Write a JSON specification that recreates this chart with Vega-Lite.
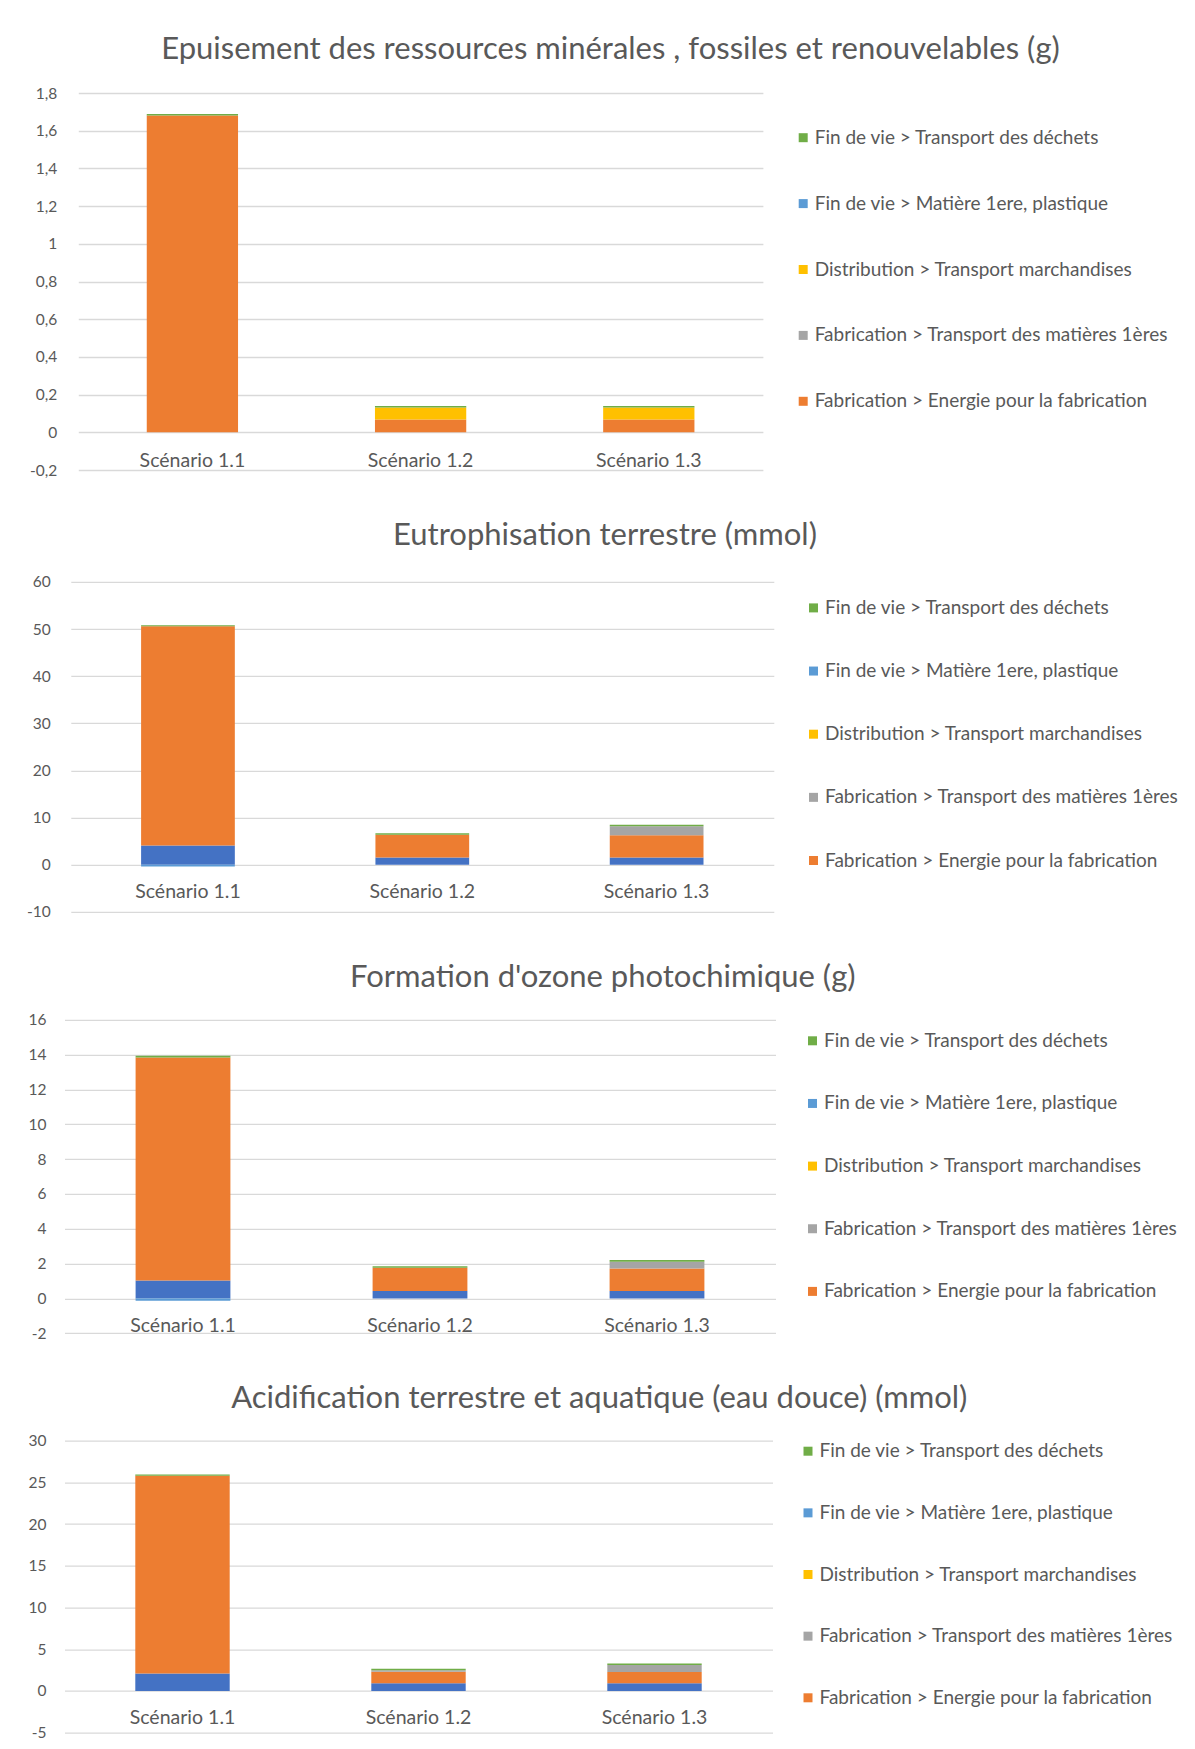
{
  "$schema": "https://vega.github.io/schema/vega-lite/v6.json",
  "padding": {"left": 25.5, "top": 34, "right": 0, "bottom": 0},
  "background": "white",
  "columns": 1,
  "align": "none",
  "spacing": 40.9,
  "data": {"values": [
    {"ind": "E", "scenario": "Scénario 1.1", "serie": "Fabrication > Energie pour la fabrication", "ordre": 1, "valeur": 1.68},
    {"ind": "E", "scenario": "Scénario 1.1", "serie": "Fin de vie > Transport des déchets", "ordre": 5, "valeur": 0.009},
    {"ind": "E", "scenario": "Scénario 1.2", "serie": "Fabrication > Energie pour la fabrication", "ordre": 1, "valeur": 0.068},
    {"ind": "E", "scenario": "Scénario 1.2", "serie": "Distribution > Transport marchandises", "ordre": 3, "valeur": 0.063},
    {"ind": "E", "scenario": "Scénario 1.2", "serie": "Fin de vie > Transport des déchets", "ordre": 5, "valeur": 0.009},
    {"ind": "E", "scenario": "Scénario 1.3", "serie": "Fabrication > Energie pour la fabrication", "ordre": 1, "valeur": 0.068},
    {"ind": "E", "scenario": "Scénario 1.3", "serie": "Distribution > Transport marchandises", "ordre": 3, "valeur": 0.063},
    {"ind": "E", "scenario": "Scénario 1.3", "serie": "Fin de vie > Transport des déchets", "ordre": 5, "valeur": 0.009},

    {"ind": "T", "scenario": "Scénario 1.1", "serie": "Fabrication > Matière 1ère", "ordre": 0, "valeur": 4.1},
    {"ind": "T", "scenario": "Scénario 1.1", "serie": "Fabrication > Energie pour la fabrication", "ordre": 1, "valeur": 46.5},
    {"ind": "T", "scenario": "Scénario 1.1", "serie": "Fin de vie > Matière 1ere, plastique", "ordre": 4, "valeur": -0.35},
    {"ind": "T", "scenario": "Scénario 1.1", "serie": "Fin de vie > Transport des déchets", "ordre": 5, "valeur": 0.2},
    {"ind": "T", "scenario": "Scénario 1.2", "serie": "Fabrication > Matière 1ère", "ordre": 0, "valeur": 1.55},
    {"ind": "T", "scenario": "Scénario 1.2", "serie": "Fabrication > Energie pour la fabrication", "ordre": 1, "valeur": 4.8},
    {"ind": "T", "scenario": "Scénario 1.2", "serie": "Fin de vie > Transport des déchets", "ordre": 5, "valeur": 0.35},
    {"ind": "T", "scenario": "Scénario 1.3", "serie": "Fabrication > Matière 1ère", "ordre": 0, "valeur": 1.55},
    {"ind": "T", "scenario": "Scénario 1.3", "serie": "Fabrication > Energie pour la fabrication", "ordre": 1, "valeur": 4.7},
    {"ind": "T", "scenario": "Scénario 1.3", "serie": "Fabrication > Transport des matières 1ères", "ordre": 2, "valeur": 1.9},
    {"ind": "T", "scenario": "Scénario 1.3", "serie": "Fin de vie > Transport des déchets", "ordre": 5, "valeur": 0.35},

    {"ind": "O", "scenario": "Scénario 1.1", "serie": "Fabrication > Matière 1ère", "ordre": 0, "valeur": 1.03},
    {"ind": "O", "scenario": "Scénario 1.1", "serie": "Fabrication > Energie pour la fabrication", "ordre": 1, "valeur": 12.81},
    {"ind": "O", "scenario": "Scénario 1.1", "serie": "Fin de vie > Matière 1ere, plastique", "ordre": 4, "valeur": -0.14},
    {"ind": "O", "scenario": "Scénario 1.1", "serie": "Fin de vie > Transport des déchets", "ordre": 5, "valeur": 0.1},
    {"ind": "O", "scenario": "Scénario 1.2", "serie": "Fabrication > Matière 1ère", "ordre": 0, "valeur": 0.43},
    {"ind": "O", "scenario": "Scénario 1.2", "serie": "Fabrication > Energie pour la fabrication", "ordre": 1, "valeur": 1.33},
    {"ind": "O", "scenario": "Scénario 1.2", "serie": "Fin de vie > Transport des déchets", "ordre": 5, "valeur": 0.08},
    {"ind": "O", "scenario": "Scénario 1.3", "serie": "Fabrication > Matière 1ère", "ordre": 0, "valeur": 0.43},
    {"ind": "O", "scenario": "Scénario 1.3", "serie": "Fabrication > Energie pour la fabrication", "ordre": 1, "valeur": 1.29},
    {"ind": "O", "scenario": "Scénario 1.3", "serie": "Fabrication > Transport des matières 1ères", "ordre": 2, "valeur": 0.39},
    {"ind": "O", "scenario": "Scénario 1.3", "serie": "Fin de vie > Transport des déchets", "ordre": 5, "valeur": 0.1},

    {"ind": "A", "scenario": "Scénario 1.1", "serie": "Fabrication > Matière 1ère", "ordre": 0, "valeur": 2.09},
    {"ind": "A", "scenario": "Scénario 1.1", "serie": "Fabrication > Energie pour la fabrication", "ordre": 1, "valeur": 23.7},
    {"ind": "A", "scenario": "Scénario 1.1", "serie": "Fin de vie > Transport des déchets", "ordre": 5, "valeur": 0.17},
    {"ind": "A", "scenario": "Scénario 1.2", "serie": "Fabrication > Matière 1ère", "ordre": 0, "valeur": 0.92},
    {"ind": "A", "scenario": "Scénario 1.2", "serie": "Fabrication > Energie pour la fabrication", "ordre": 1, "valeur": 1.4},
    {"ind": "A", "scenario": "Scénario 1.2", "serie": "Fabrication > Transport des matières 1ères", "ordre": 2, "valeur": 0.18},
    {"ind": "A", "scenario": "Scénario 1.2", "serie": "Fin de vie > Transport des déchets", "ordre": 5, "valeur": 0.18},
    {"ind": "A", "scenario": "Scénario 1.3", "serie": "Fabrication > Matière 1ère", "ordre": 0, "valeur": 0.92},
    {"ind": "A", "scenario": "Scénario 1.3", "serie": "Fabrication > Energie pour la fabrication", "ordre": 1, "valeur": 1.35},
    {"ind": "A", "scenario": "Scénario 1.3", "serie": "Fabrication > Transport des matières 1ères", "ordre": 2, "valeur": 0.84},
    {"ind": "A", "scenario": "Scénario 1.3", "serie": "Fin de vie > Transport des déchets", "ordre": 5, "valeur": 0.17}
  ]},
  "concat": [
    {
      "title": {"text": "Epuisement des ressources minérales , fossiles et renouvelables (g)", "offset": 20, "dx": -6},
      "width": 699, "height": 377,
      "transform": [{"filter": "datum.ind === 'E'"}],
      "mark": {"type": "bar"},
      "encoding": {
        "x": {"field": "scenario", "type": "nominal", "scale": {"paddingInner": 0.6, "paddingOuter": 0.3, "range": [13.8, 698.4]},
              "axis": {"offset": -37.7, "labelPadding": 19}},
        "y": {"field": "valeur", "type": "quantitative", "stack": "zero",
              "scale": {"domain": [-0.2, 1.8], "nice": false, "zero": false},
              "axis": {"values": [-0.2, 0, 0.2, 0.4, 0.6, 0.8, 1, 1.2, 1.4, 1.6, 1.8], "labelPadding": 7.8}},
        "color": {"field": "serie", "type": "nominal",
                  "scale": {"domain": ["Fabrication > Matière 1ère", "Fabrication > Energie pour la fabrication", "Fabrication > Transport des matières 1ères", "Distribution > Transport marchandises", "Fin de vie > Matière 1ere, plastique", "Fin de vie > Transport des déchets"],
                            "range": ["#4472C4", "#ED7D31", "#A5A5A5", "#FFC000", "#5B9BD5", "#70AD47"]},
                  "legend": {"values": ["Fin de vie > Transport des déchets", "Fin de vie > Matière 1ere, plastique", "Distribution > Transport marchandises", "Fabrication > Transport des matières 1ères", "Fabrication > Energie pour la fabrication"],
                             "padding": 35.2, "offset": -5, "rowPadding": 45.9}},
        "order": {"field": "ordre", "type": "quantitative"}
      }
    },
    {
      "title": {"text": "Eutrophisation terrestre (mmol)", "offset": 22.9, "dx": -6},
      "width": 711, "height": 330,
      "transform": [{"filter": "datum.ind === 'T'"}],
      "mark": {"type": "bar"},
      "encoding": {
        "x": {"field": "scenario", "type": "nominal", "scale": {"paddingInner": 0.6, "paddingOuter": 0.3, "range": [6.3, 709.3]},
              "axis": {"offset": -47}},
        "y": {"field": "valeur", "type": "quantitative", "stack": "zero",
              "scale": {"domain": [-10, 60], "nice": false, "zero": false},
              "axis": {"values": [-10, 0, 10, 20, 30, 40, 50, 60], "labelPadding": 14.3}},
        "color": {"field": "serie", "type": "nominal",
                  "scale": {"domain": ["Fabrication > Matière 1ère", "Fabrication > Energie pour la fabrication", "Fabrication > Transport des matières 1ères", "Distribution > Transport marchandises", "Fin de vie > Matière 1ere, plastique", "Fin de vie > Transport des déchets"],
                            "range": ["#4472C4", "#ED7D31", "#A5A5A5", "#FFC000", "#5B9BD5", "#70AD47"]},
                  "legend": {"values": ["Fin de vie > Transport des déchets", "Fin de vie > Matière 1ere, plastique", "Distribution > Transport marchandises", "Fabrication > Transport des matières 1ères", "Fabrication > Energie pour la fabrication"],
                             "padding": 16.5, "offset": 11.7, "rowPadding": 43.15}},
        "order": {"field": "ordre", "type": "quantitative"}
      }
    },
    {
      "title": {"text": "Formation d'ozone photochimique (g)", "offset": 18.8, "dx": -6},
      "width": 711, "height": 313.4,
      "transform": [{"filter": "datum.ind === 'O'"}],
      "mark": {"type": "bar"},
      "encoding": {
        "x": {"field": "scenario", "type": "nominal", "scale": {"paddingInner": 0.6, "paddingOuter": 0.3},
              "axis": {"offset": -34.1}},
        "y": {"field": "valeur", "type": "quantitative", "stack": "zero",
              "scale": {"domain": [-2, 16], "nice": false, "zero": false},
              "axis": {"values": [-2, 0, 2, 4, 6, 8, 10, 12, 14, 16], "labelPadding": 18.5}},
        "color": {"field": "serie", "type": "nominal",
                  "scale": {"domain": ["Fabrication > Matière 1ère", "Fabrication > Energie pour la fabrication", "Fabrication > Transport des matières 1ères", "Distribution > Transport marchandises", "Fin de vie > Matière 1ere, plastique", "Fin de vie > Transport des déchets"],
                            "range": ["#4472C4", "#ED7D31", "#A5A5A5", "#FFC000", "#5B9BD5", "#70AD47"]},
                  "legend": {"values": ["Fin de vie > Transport des déchets", "Fin de vie > Matière 1ere, plastique", "Distribution > Transport marchandises", "Fabrication > Transport des matières 1ères", "Fabrication > Energie pour la fabrication"],
                             "padding": 11.5, "offset": 16, "rowPadding": 42.65}},
        "order": {"field": "ordre", "type": "quantitative"}
      }
    },
    {
      "title": {"text": "Acidification terrestre et aquatique (eau douce) (mmol)", "offset": 18.5, "dx": -2},
      "width": 708, "height": 292,
      "transform": [{"filter": "datum.ind === 'A'"}],
      "mark": {"type": "bar"},
      "encoding": {
        "x": {"field": "scenario", "type": "nominal", "scale": {"paddingInner": 0.6, "paddingOuter": 0.3},
              "axis": {"offset": -41.7}},
        "y": {"field": "valeur", "type": "quantitative", "stack": "zero",
              "scale": {"domain": [-5, 30], "nice": false, "zero": false},
              "axis": {"values": [-5, 0, 5, 10, 15, 20, 25, 30], "labelPadding": 18.5}},
        "color": {"field": "serie", "type": "nominal",
                  "scale": {"domain": ["Fabrication > Matière 1ère", "Fabrication > Energie pour la fabrication", "Fabrication > Transport des matières 1ères", "Distribution > Transport marchandises", "Fin de vie > Matière 1ere, plastique", "Fin de vie > Transport des déchets"],
                            "range": ["#4472C4", "#ED7D31", "#A5A5A5", "#FFC000", "#5B9BD5", "#70AD47"]},
                  "legend": {"values": ["Fin de vie > Transport des déchets", "Fin de vie > Matière 1ere, plastique", "Distribution > Transport marchandises", "Fabrication > Transport des matières 1ères", "Fabrication > Energie pour la fabrication"],
                             "padding": 1, "offset": 25.3, "rowPadding": 41.65}},
        "order": {"field": "ordre", "type": "quantitative"}
      }
    }
  ],
  "resolve": {"scale": {"color": "independent", "y": "independent", "x": "independent"}, "legend": {"color": "independent"}},
  "config": {
    "font": "Lato",
    "view": {"stroke": null},
    "title": {"fontSize": 31, "fontWeight": "normal", "color": "#595959", "anchor": "middle", "frame": "bounds"},
    "axis": {"title": null, "domain": false, "ticks": false, "tickSize": 0, "labelColor": "#595959", "gridColor": "#D9D9D9", "gridWidth": 1.3},
    "axisX": {"grid": false, "labelAngle": 0, "labelPadding": 17.5, "labelFontSize": 19.5},
    "axisY": {"grid": true, "labelFontSize": 15.5, "labelExpr": "replace(toString(datum.value), '.', ',')"},
    "legend": {"title": null, "symbolType": "square", "symbolSize": 81, "symbolStrokeWidth": 0, "labelFontSize": 19, "labelColor": "#595959", "labelLimit": 500, "labelOffset": 2}
  }
}
